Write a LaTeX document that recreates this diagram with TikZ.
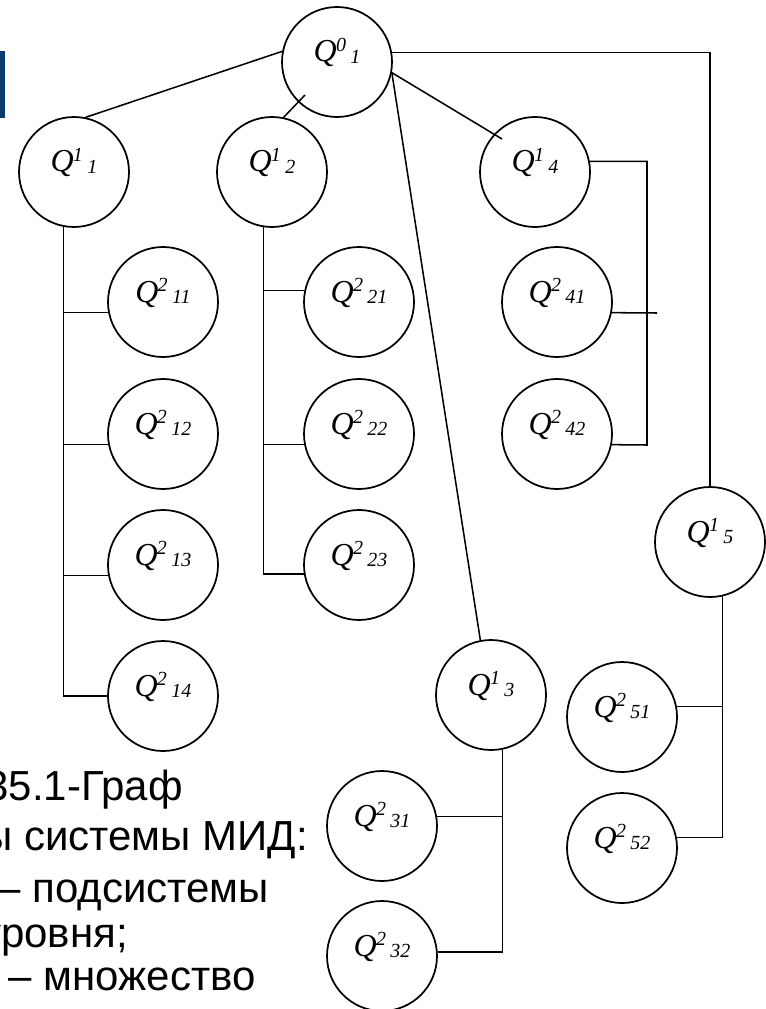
\documentclass[tikz,border=0pt]{standalone}
\usepackage{fontspec}
\setmainfont{Liberation Serif}
\newfontfamily\capfont{Liberation Sans}
\definecolor{navy}{RGB}{12,58,108}
\newcommand\ql[2]{{\fontsize{24}{24}\selectfont\itshape Q\kern-0.02em\raisebox{8pt}{\fontsize{15}{15}\selectfont #1}\kern0.14em\raisebox{-1.2pt}{\fontsize{15}{15}\selectfont #2}}}
\tikzset{
  qc/.style={circle,draw,line width=1.3pt,minimum size=82.5pt,inner sep=0pt,
    text height=11pt,text depth=11pt},
  link/.style={line width=1.15pt},
  captxt/.style={anchor=base east,inner sep=0pt,font=\capfont\fontsize{31.5}{31.5}\selectfont}
}
\begin{document}
\begin{tikzpicture}[x=0.75pt,y=-0.75pt]
\useasboundingbox (0,0) rectangle (765,1009);
\fill[white] (0,0) rectangle (765,1009);
\fill[navy] (0,51) rectangle (5,118);

% nodes
\node[qc] (q01) at (337,62) {\ql{0}{1}};
\node[qc] (q11) at (74,172) {\ql{1}{1}};
\node[qc] (q12) at (272,172) {\ql{1}{2}};
\node[qc] (q14) at (535,172) {\ql{1}{4}};
\node[qc] (q211) at (163,302) {\ql{2}{11}};
\node[qc] (q212) at (163,434) {\ql{2}{12}};
\node[qc] (q213) at (163,565) {\ql{2}{13}};
\node[qc] (q214) at (163,696) {\ql{2}{14}};
\node[qc] (q221) at (359,302) {\ql{2}{21}};
\node[qc] (q222) at (359,434) {\ql{2}{22}};
\node[qc] (q223) at (359,565) {\ql{2}{23}};
\node[qc] (q241) at (557,302) {\ql{2}{41}};
\node[qc] (q242) at (557,434) {\ql{2}{42}};
\node[qc] (q15) at (710,542) {\ql{1}{5}};
\node[qc] (q13) at (491,695) {\ql{1}{3}};
\node[qc] (q251) at (622,717) {\ql{2}{51}};
\node[qc] (q252) at (622,848) {\ql{2}{52}};
\node[qc] (q231) at (382,826) {\ql{2}{31}};
\node[qc] (q232) at (382,956) {\ql{2}{32}};

\coordinate (t12) at (305,95);
\coordinate (t14) at (502,139);
\coordinate (e41) at (657,313);
\coordinate (b4) at (647,445);

% top level links
\draw[link] (q01.169.5) -- (q11.78.5);
\draw[link] (q12.78.7) -- (t12);
\draw[link] (q01.-11.3) -- (t14);
\draw[link] (q01.-11.3) -- (q13.101.5);
\draw[link] (q01.10.5) -| (q15.north);

% Q1_1 bus
\draw[link] (q11.-101.5) |- (q214.west);
\draw[link] (q211.191.5) -- (q211.191.5 -| q11.-101.5);
\draw[link] (q212.191.5) -- (q212.191.5 -| q11.-101.5);
\draw[link] (q213.191.5) -- (q213.191.5 -| q11.-101.5);

% Q1_2 bus
\draw[link] (q12.-99.4) |- (q223.189.5);
\draw[link] (q221.168.5) -- (q221.168.5 -| q12.-99.4);
\draw[link] (q222.191.5) -- (q222.191.5 -| q12.-99.4);

% Q1_4 bus
\draw[link] (q14.11.5) -| (b4) -- (q242.-11.5);
\draw[link] (q241.-11.5) -- (e41);

% Q1_3 bus
\draw[link] (q13.-78.5) |- (q232.4);
\draw[link] (q231.10.5) -- (q231.10.5 -| q13.-78.5);

% Q1_5 bus
\draw[link] (q15.-77.4) |- (q252.11.5);
\draw[link] (q251.11.5) -- (q251.11.5 -| q15.-77.4);

% caption text (cut at the left edge, as in the reference)
\begin{scope}
\clip (0,0) rectangle (765,1009);
\node[captxt] (c1) at (183,800) {35.1-Граф};
\node[captxt] (c2) at (308,850) {ы системы МИД:};
\node[captxt] (c3) at (269,902) {– подсистемы};
\node[captxt] (c4) at (128,947) {уровня;};
\node[captxt] (c5) at (256,990) {– множество};
\end{scope}
\end{tikzpicture}
\end{document}
